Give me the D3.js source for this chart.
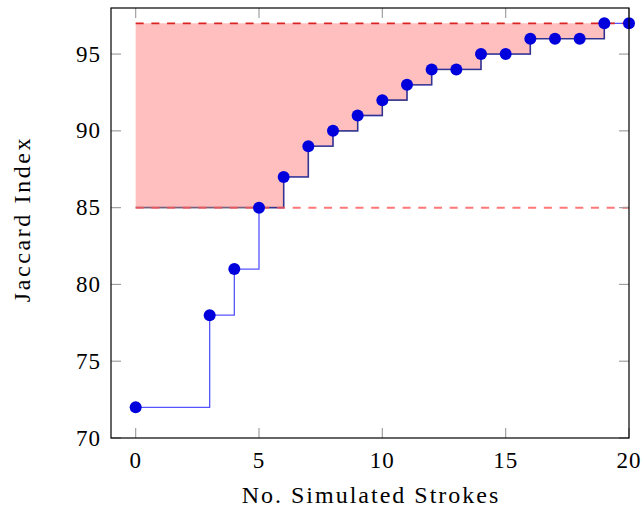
<!DOCTYPE html>
<html>
<head>
<meta charset="utf-8">
<script src="https://cdn.jsdelivr.net/npm/d3@7"></script>
<style>
  body { margin: 0; background: #fff; }
  text { font-family: "Liberation Serif", serif; fill: #000; }
</style>
</head>
<body>
<svg id="chart"></svg>
<script>
// number of simulated strokes and the jaccard index after each
var strokes = [0, 3, 4, 5, 6, 7, 8, 9, 10, 11, 12, 13, 14, 15, 16, 17, 18, 19, 20];
var jaccard = [72, 78, 81, 85, 87, 89, 90, 91, 92, 93, 94, 94, 95, 95, 96, 96, 96, 97, 97];

var xTicks = [0, 5, 10, 15, 20];
var yTicks = [70, 75, 80, 85, 90, 95];

var lowLine = 85;
var highLine = 97;

var width = 644;
var height = 510;
var margin = { top: 8, right: 15, bottom: 72, left: 111 };
var w = width - margin.left - margin.right;
var h = height - margin.top - margin.bottom;

var data = strokes.map(function(s, i) { return { x: s, y: jaccard[i] }; });

var svg = d3.select('#chart')
    .attr('width', width)
    .attr('height', height);

var g = svg.append('g')
    .attr('transform', 'translate(' + margin.left + ',' + margin.top + ')');

var x = d3.scaleLinear().domain([-1, 20]).range([0, w]);
var y = d3.scaleLinear().domain([70, 98]).range([h, 0]);

// shaded region between the two lines, above the curve
var area = d3.area()
    .curve(d3.curveStepAfter)
    .x(function(d) { return x(d.x); })
    .y0(function(d) { return y(Math.max(lowLine, d.y)); })
    .y1(y(highLine));

var upto = data.filter(function(d) { return d.x <= 19; });

g.append('path')
    .datum(upto)
    .attr('d', area)
    .attr('fill', '#ffbfbf')
    .attr('stroke', 'none');

// blue step curve
var line = d3.line()
    .curve(d3.curveStepAfter)
    .x(function(d) { return x(d.x); })
    .y(function(d) { return y(d.y); });

g.append('path')
    .datum(data)
    .attr('d', line)
    .attr('fill', 'none')
    .attr('stroke', '#5555ff')
    .attr('stroke-width', 1.3);

// dark edge of the shaded region
var edge = d3.line()
    .curve(d3.curveStepAfter)
    .x(function(d) { return x(d.x); })
    .y(function(d) { return y(Math.max(lowLine, d.y)); });

g.append('path')
    .datum(upto)
    .attr('d', edge)
    .attr('fill', 'none')
    .attr('stroke', '#1a1a4a')
    .attr('stroke-opacity', 0.6)
    .attr('stroke-width', 1.6);

// dashed threshold lines
g.append('line')
    .attr('x1', x(0)).attr('x2', x(20))
    .attr('y1', y(lowLine)).attr('y2', y(lowLine))
    .attr('stroke', '#ff5555')
    .attr('stroke-opacity', 0.8)
    .attr('stroke-width', 2)
    .attr('stroke-dasharray', '8,7.7');

g.append('line')
    .attr('x1', x(0)).attr('x2', x(20))
    .attr('y1', y(highLine)).attr('y2', y(highLine))
    .attr('stroke', '#dd2222')
    .attr('stroke-width', 1.6)
    .attr('stroke-dasharray', '8,7.7');

// markers
g.selectAll('circle')
    .data(data)
    .enter().append('circle')
    .attr('cx', function(d) { return x(d.x); })
    .attr('cy', function(d) { return y(d.y); })
    .attr('r', 6)
    .attr('fill', '#0000dd');

// ticks, inside, on all four sides
var tickLen = 10;
var tickColor = '#a0a0a0';
xTicks.forEach(function(t) {
  g.append('line').attr('x1', x(t)).attr('x2', x(t)).attr('y1', h).attr('y2', h - tickLen)
    .attr('stroke', tickColor).attr('stroke-width', 1.2);
  g.append('line').attr('x1', x(t)).attr('x2', x(t)).attr('y1', 0).attr('y2', tickLen)
    .attr('stroke', tickColor).attr('stroke-width', 1.2);
});
yTicks.forEach(function(t) {
  g.append('line').attr('x1', 0).attr('x2', tickLen).attr('y1', y(t)).attr('y2', y(t))
    .attr('stroke', tickColor).attr('stroke-width', 1.2);
  g.append('line').attr('x1', w).attr('x2', w - tickLen).attr('y1', y(t)).attr('y2', y(t))
    .attr('stroke', tickColor).attr('stroke-width', 1.2);
});

// frame
g.append('rect')
    .attr('x', 0).attr('y', 0)
    .attr('width', w).attr('height', h)
    .attr('fill', 'none')
    .attr('stroke', '#000')
    .attr('stroke-width', 1.2);

// tick labels
g.selectAll('.xlab')
    .data(xTicks)
    .enter().append('text')
    .attr('class', 'xlab')
    .attr('x', function(d) { return x(d); })
    .attr('y', h + 30)
    .attr('text-anchor', 'middle')
    .attr('font-size', 23)
    .attr('letter-spacing', 1)
    .text(function(d) { return d; });

g.selectAll('.ylab')
    .data(yTicks)
    .enter().append('text')
    .attr('class', 'ylab')
    .attr('x', -10)
    .attr('y', function(d) { return y(d); })
    .attr('dy', '0.33em')
    .attr('text-anchor', 'end')
    .attr('font-size', 23)
    .attr('letter-spacing', 1)
    .text(function(d) { return d; });

// axis titles
svg.append('text')
    .attr('x', margin.left + w / 2 + 1)
    .attr('y', 503)
    .attr('text-anchor', 'middle')
    .attr('font-size', 24)
    .attr('letter-spacing', 2)
    .text('No. Simulated Strokes');

svg.append('text')
    .attr('transform', 'translate(30,219) rotate(-90)')
    .attr('text-anchor', 'middle')
    .attr('font-size', 24)
    .attr('letter-spacing', 2.6)
    .text('Jaccard Index');
</script>
</body>
</html>
